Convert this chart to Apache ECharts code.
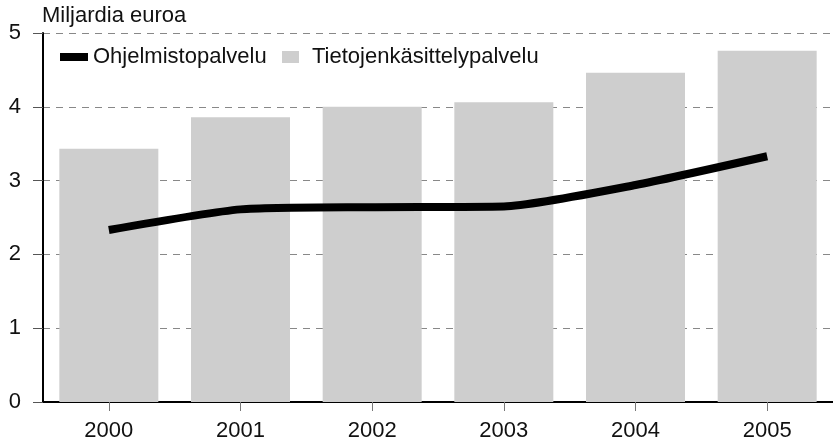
<!DOCTYPE html>
<html>
<head>
<meta charset="utf-8">
<script src="https://cdn.jsdelivr.net/npm/echarts@6/dist/echarts.min.js"></script>
<style>
html,body{margin:0;padding:0;background:#fff;}
#c{width:833px;height:444px;}
</style>
</head>
<body>
<div id="c"></div>
<script>
var years = ['2000','2001','2002','2003','2004','2005'];
var tietojenkasittely = [3.43, 3.86, 4.00, 4.06, 4.46, 4.76];
var ohjelmisto = [2.33, 2.61, 2.64, 2.65, 2.94, 3.33];
var yTicks = [0, 1, 2, 3, 4, 5];
var unitTitle = 'Miljardia euroa';
var lineName = 'Ohjelmistopalvelu';
var barName = 'Tietojenkäsittelypalvelu';

var font = '"Liberation Sans", Arial, sans-serif';
var chart = echarts.init(document.getElementById('c'), null, {renderer: 'canvas'});
chart.setOption({
  animation: false,
  backgroundColor: '#fff',
  title: {
    text: unitTitle, left: 42, top: 5, padding: 0,
    textStyle: {fontFamily: font, fontSize: 22, fontWeight: 'normal', color: '#111'}
  },
  legend: [
    {
      data: [{name: lineName, icon: 'rect'}],
      left: 60, top: 46, padding: 0, itemWidth: 28, itemHeight: 8, itemGap: 5,
      textStyle: {fontFamily: font, fontSize: 22, color: '#111', padding: [0,0,0,0]}
    },
    {
      data: [{name: barName, icon: 'rect'}],
      left: 282, top: 46, padding: 0, itemWidth: 17, itemHeight: 12, itemGap: 5,
      textStyle: {fontFamily: font, fontSize: 22, color: '#111', padding: [0,0,0,8]}
    }
  ],
  grid: {left: 43, right: -6, top: 33, bottom: 42, containLabel: false},
  xAxis: {
    type: 'category',
    data: years,
    axisLine: {lineStyle: {color: '#000', width: 2}},
    axisTick: {show: true, alignWithLabel: true, length: 9, lineStyle: {color: '#777', width: 1}},
    axisLabel: {fontFamily: font, fontSize: 22, color: '#111', margin: 18}
  },
  yAxis: {
    type: 'value',
    min: yTicks[0], max: yTicks[yTicks.length - 1], interval: 1,
    axisLine: {show: true, lineStyle: {color: '#000', width: 2}},
    axisTick: {show: true, length: 10, lineStyle: {color: '#555', width: 1}},
    axisLabel: {fontFamily: font, fontSize: 22, color: '#111', margin: 22},
    splitLine: {show: true, lineStyle: {color: '#888', width: 1, type: [7, 6]}}
  },
  series: [
    {
      name: barName, type: 'bar', data: tietojenkasittely,
      barWidth: 99,
      itemStyle: {color: '#cecece'},
      z: 2
    },
    {
      name: lineName, type: 'line', data: ohjelmisto,
      showSymbol: false, symbol: 'none', smooth: 0.2,
      lineStyle: {color: '#000', width: 8, cap: 'butt'},
      itemStyle: {color: '#000'},
      z: 3
    }
  ]
});
</script>
</body>
</html>
